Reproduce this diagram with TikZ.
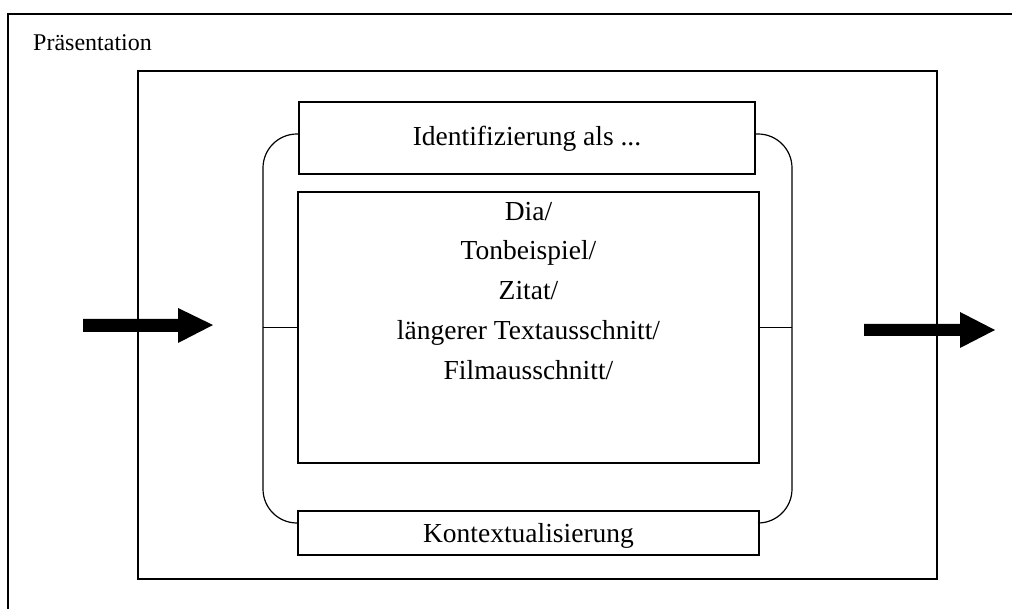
\documentclass[tikz,border=0pt]{standalone}
\usepackage{fontspec}
\setmainfont{Liberation Serif}
\begin{document}
\begin{tikzpicture}[x=1pt,y=-1pt,
  frame/.style={draw=black,line width=1.4pt},
  box/.style={draw=black,line width=1.4pt,inner sep=0pt,outer sep=0pt},
  lab/.style={inner sep=0pt,text height=0.68em,text depth=0.22em,font=\fontsize{27.5}{32}\selectfont},
  titlelab/.style={inner sep=0pt,text height=0.68em,text depth=0.22em,font=\fontsize{24}{28}\selectfont},
  bar/.style={draw=black,line width=1.2pt,rounded corners=34pt},
  bigarrow/.style={fill=black,draw=none}]
\useasboundingbox (0,0) rectangle (1012,609);
\fill[white] (0,0) rectangle (1012,609);

% outer frame (only top and left edges lie inside the page)
\draw[frame] (1012,14) -- (8,14) -- (8,609);
\node[titlelab,anchor=west] (title) at (33,48) {Präsentation};

% inner frame
\draw[frame] (138,71) rectangle (937,579);

% the three stacked boxes
\node[box,minimum width=456pt,minimum height=72pt] (top) at (527,138) {};
\node[lab] (toplab) at ([yshift=-5pt]top.center) {Identifizierung als ...};

\node[box,minimum width=461pt,minimum height=271pt] (mid) at (528.5,327.5) {};
\node[lab] (l1) at (528.5,218) {Dia/};
\node[lab] (l2) at (528.5,257) {Tonbeispiel/};
\node[lab] (l3) at (528.5,297) {Zitat/};
\node[lab] (l4) at (528.5,337) {längerer Textausschnitt/};
\node[lab] (l5) at (528.5,377) {Filmausschnitt/};

\node[box,minimum width=461pt,minimum height=44pt] (bot) at (528.5,533) {};
\node[lab] (botlab) at ([yshift=-7pt]bot.center) {Kontextualisierung};

% brackets joining the boxes
\coordinate (lb) at (263,0);
\coordinate (rb) at (792,0);
\draw[bar] ([yshift=4pt]top.west) -| (lb |- mid.west) |- ([yshift=10pt]bot.west);
\draw[bar] ([yshift=4pt]top.east) -| (rb |- mid.east) |- ([yshift=10pt]bot.east);
\draw[line width=1.1pt] (mid.west) -- (lb |- mid.west);
\draw[line width=1.1pt] (mid.east) -- (rb |- mid.east);

% block arrows
\coordinate (ina) at (83,325);
\coordinate (outa) at (864,330);
\fill[bigarrow] (ina) ++(0,-6) -- ++(95,0) -- ++(0,-11) -- ++(35,17) -- ++(-35,18) -- ++(0,-11) -- ++(-95,0) -- cycle;
\fill[bigarrow] (outa) ++(0,-6) -- ++(96,0) -- ++(0,-12) -- ++(35,18) -- ++(-35,18) -- ++(0,-12) -- ++(-96,0) -- cycle;
\end{tikzpicture}
\end{document}
